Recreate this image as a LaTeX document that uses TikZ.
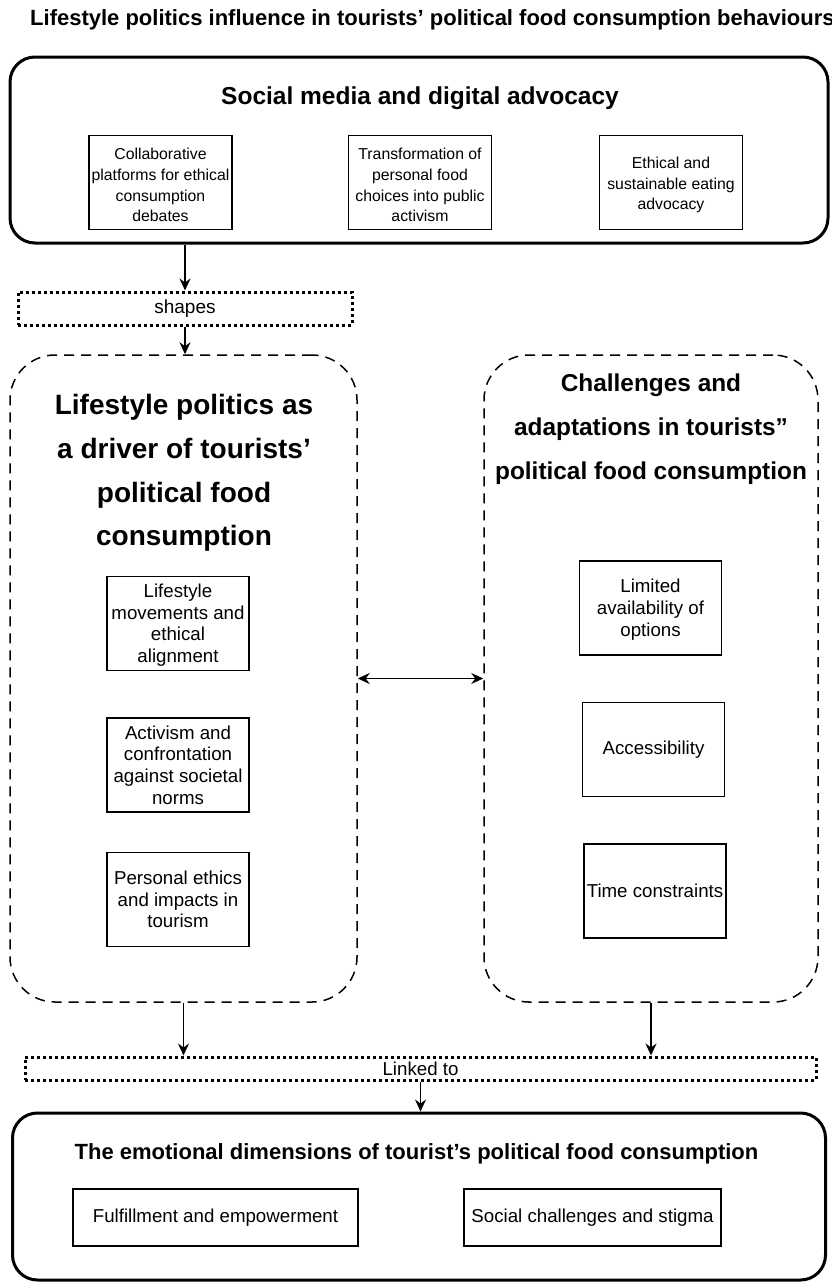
\documentclass[tikz,border=0pt]{standalone}
\usepackage{fontspec}
\setmainfont{Liberation Sans}
\usetikzlibrary{arrows.meta}
\newcommand{\firststrut}{\rule{0pt}{16.8pt}}
\begin{document}
\begin{tikzpicture}[x=1pt,y=-1pt,
  every node/.style={inner sep=0pt, font=\fontsize{18.7}{21.7}\selectfont},
  bigbox/.style={draw, line width=3pt, rounded corners=25pt},
  dashbox/.style={draw, line width=1.5pt, dash pattern=on 10pt off 7pt, rounded corners=45pt},
  dotbox/.style={draw, line width=3pt, dash pattern=on 3pt off 3pt},
  subbox/.style={draw, line width=1.4pt, align=center},
  smallbox/.style={subbox, minimum width=143pt, minimum height=94pt, font=\fontsize{15.8}{20.7}\selectfont},
  midbox/.style={subbox, minimum width=142pt, minimum height=94pt},
  >={Stealth[length=12pt,width=11pt,inset=4pt]},
  arr/.style={->, line width=1.5pt},
  darr/.style={<->, line width=1.5pt},
]
\useasboundingbox (0,0) rectangle (832,1282);

% title
\node[anchor=base west, font=\bfseries\fontsize{22}{26}\selectfont] (title) at (30,25.5)
  {Lifestyle politics influence in tourists’ political food consumption behaviours};

% top box
\node[bigbox, minimum width=818pt, minimum height=186pt] (top) at (419,150) {};
\node[anchor=base, font=\bfseries\fontsize{24.5}{29}\selectfont] (toptitle) at (420,104)
  {Social media and digital advocacy};
\node[smallbox] (t1) at (160.5,182.5) {\firststrut Collaborative\\platforms for ethical\\consumption\\debates};
\node[smallbox] (t2) at (420,182.5) {\firststrut Transformation of\\personal food\\choices into public\\activism};
\node[smallbox] (t3) at (671,182.5) {\firststrut Ethical and\\sustainable eating\\advocacy};

% shapes
\node[dotbox, minimum width=334pt, minimum height=33pt, font=\fontsize{19}{22}\selectfont] (shapes) at (185,308.5) {\raisebox{-2pt}{shapes}};

% left dashed box
\node[dashbox, minimum width=347pt, minimum height=647pt] (left) at (183.5,678.5) {};
\node[align=center, font=\bfseries\fontsize{28}{43.6}\selectfont] (lefttitle) at (184,473)
  {Lifestyle politics as\\a driver of tourists’\\political food\\consumption};
\node[midbox] (l1) at (178,623.5) {\rule{0pt}{17pt}Lifestyle\\movements and\\ethical\\alignment};
\node[midbox] (l2) at (178,765) {Activism and\\confrontation\\against societal\\norms};
\node[midbox] (l3) at (178,899.5) {Personal ethics\\and impacts in\\tourism};

% right dashed box
\node[dashbox, minimum width=334pt, minimum height=647pt] (right) at (651,678.5) {};
\node[align=center, font=\bfseries\fontsize{24.4}{44}\selectfont] (righttitle) at (651,429)
  {Challenges and\\adaptations in tourists”\\political food consumption};
\node[midbox] (r1) at (650.5,608) {\rule{0pt}{17pt}Limited\\availability of\\options};
\node[midbox] (r2) at (653.5,749.5) {Accessibility};
\node[midbox] (r3) at (655,891) {Time constraints};

% linked to
\node[dotbox, minimum width=791pt, minimum height=23pt] (linked) at (420.5,1068.5) {Linked to};

% bottom box
\node[bigbox, minimum width=813pt, minimum height=167pt] (bottom) at (419,1196.5) {};
\node[anchor=base, font=\bfseries\fontsize{22}{26}\selectfont] (bottomtitle) at (416.5,1159.5)
  {The emotional dimensions of tourist’s political food consumption};
\node[subbox, minimum width=285pt, minimum height=57pt] (b1) at (215.5,1217.5) {Fulfillment and empowerment};
\node[subbox, minimum width=257pt, minimum height=57pt] (b2) at (592.5,1217.5) {Social challenges and stigma};

% connectors
\draw[arr] (top.south -| shapes.north) -- (shapes.north);
\draw[arr] (shapes.south) -- (shapes.south |- left.north);
\draw[darr] (left.east) -- (right.west);
\draw[arr] (left.south) -- (left.south |- linked.north);
\draw[arr] (right.south) -- (right.south |- linked.north);
\draw[arr] (linked.south) -- (linked.south |- bottom.north);
\end{tikzpicture}
\end{document}
